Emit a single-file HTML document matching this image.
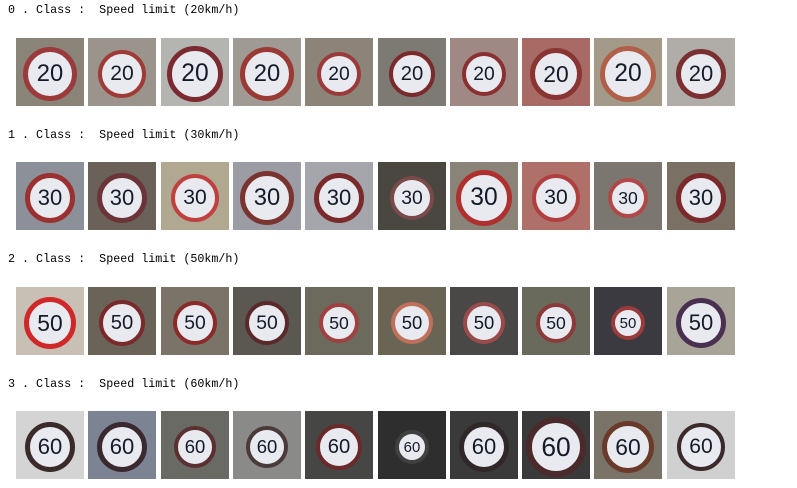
<!DOCTYPE html>
<html><head><meta charset="utf-8"><style>
body{margin:0;width:797px;height:488px;background:#fff;overflow:hidden;position:relative;font-family:"Liberation Mono","Noto Sans CJK SC",monospace;}
.lbl{position:absolute;left:8px;font-size:11.7px;color:#000;white-space:pre;line-height:14px}
.img{position:absolute;width:68px;height:68px;overflow:hidden}
.sign{position:absolute;border-radius:50%;background:#e8eaf0;display:flex;align-items:center;justify-content:center;font-family:"Liberation Sans",sans-serif;font-weight:normal;color:#141a28;box-sizing:border-box}
</style></head><body>
<script>
const labels=["0 . Class :  Speed limit (20km/h)","1 . Class :  Speed limit (30km/h)","2 . Class :  Speed limit (50km/h)","3 . Class :  Speed limit (60km/h)"];
const numbers=["20","30","50","60"];
const bgs=[
["#8a8478","#9a948c","#b4b4b0","#a09a94","#8c8478","#7c7a72","#a08884","#a86a64","#a49a8a","#b0aca8"],
["#8c9098","#6a6258","#b0a890","#9c9ca4","#a4a6ac","#4a4640","#8a8478","#b0706a","#7c7670","#7a7064"],
["#c8c0b4","#6a6458","#7a7468","#5a5850","#6c6a5c","#6a6454","#4a4846","#6a6a5c","#3a3a40","#a8a498"],
["#d4d4d4","#7c8494","#6a6a64","#8a8a88","#464644","#2e2e2e","#3a3a3a","#3a3a3a","#7a7468","#d0d0d0"]];
const rings=[
["#9a3a3a","#a03a36","#7a2a30","#9a3a34","#9a3a3a","#7a2a2a","#8a3030","#8a3434","#b06048","#7a3030"],
["#9a3030","#6a3438","#c04040","#7a3430","#7a2a2a","#7a4a4a","#b03030","#b04040","#b04848","#7a2a2a"],
["#d02828","#7a2a2a","#8a2a2a","#5a2a2a","#a04040","#c0705a","#9a4a4a","#8a3a3a","#9a3a3a","#4a3050"],
["#3a2a2a","#3a2a30","#5a3030","#4a3a3a","#6a2a2a","#404040","#302828","#4a2a2a","#6a3a2a","#3a2a2a"]];
const sizes=[
[54,48,56,54,44,46,44,52,56,50],
[50,50,48,54,50,44,56,48,40,50],
[52,46,44,44,40,42,42,40,34,50],
[50,50,42,42,46,34,50,60,52,48]];
for(let r=0;r<4;r++){
 const l=document.createElement('div');l.className='lbl';l.textContent=labels[r];
 
 
 l.style.top=(3+r*124.5)+'px';document.body.appendChild(l);
 for(let i=0;i<10;i++){
  const d=document.createElement('div');d.className='img';
  
  
  d.style.left=Math.round(16+i*72.3)+'px';d.style.top=Math.round(38+r*124.4)+'px';
  d.style.background=bgs[r][i];
  const s=document.createElement('div');s.className='sign';
  
  
  const z=sizes[r][i];
  s.style.width=z+'px';s.style.height=z+'px';
  s.style.left=(34-z/2)+'px';s.style.top=(36-z/2)+'px';
  s.style.border=Math.max(4,z/10)+'px solid '+rings[r][i];
  s.style.fontSize=(z*0.44)+'px';
  s.textContent=numbers[r];
  d.appendChild(s);document.body.appendChild(d);
 }
}
</script>
</body></html>
